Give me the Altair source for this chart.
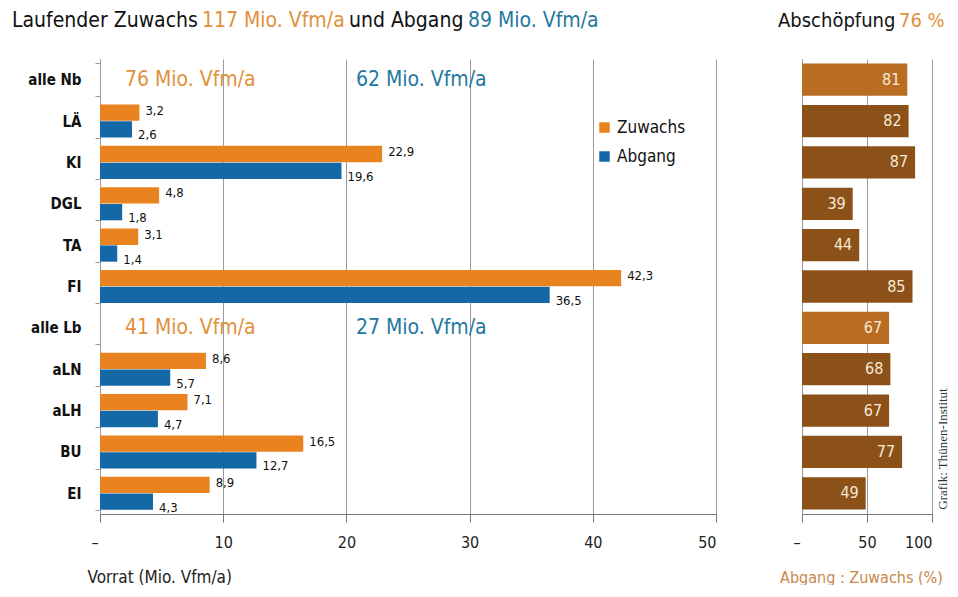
import altair as alt
import pandas as pd

categories = ["alle Nb", "LÄ", "KI", "DGL", "TA", "FI", "alle Lb", "aLN", "aLH", "BU", "EI"]
bar_cats = ["LÄ", "KI", "DGL", "TA", "FI", "aLN", "aLH", "BU", "EI"]
zuwachs = [3.2, 22.9, 4.8, 3.1, 42.3, 8.6, 7.1, 16.5, 8.9]
abgang = [2.6, 19.6, 1.8, 1.4, 36.5, 5.7, 4.7, 12.7, 4.3]
series = ["Zuwachs", "Abgang"]
abschoepfung = [81, 82, 87, 39, 44, 85, 67, 68, 67, 77, 49]
ratio_kind = ["gesamt", "art", "art", "art", "art", "art", "gesamt", "art", "art", "art", "art"]
header_cats = ["alle Nb", "alle Lb"]
header_zuwachs = ["76 Mio. Vfm/a", "41 Mio. Vfm/a"]
header_abgang = ["62 Mio. Vfm/a", "27 Mio. Vfm/a"]
left_ticks = [0, 10, 20, 30, 40, 50]
right_ticks = [0, 50, 100]

ORANGE = "#E8831F"
BLUE = "#1568A6"
T_ORANGE = "#E0913A"
T_BLUE = "#2478A0"
LIGHT = "#B96D22"
DARK = "#8C5119"
GRID = "#9a9a9a"
FONT = "Liberation Sans Narrow, DejaVu Sans Condensed, Roboto, sans-serif"

rows = []
for c, z, a in zip(bar_cats, zuwachs, abgang):
    rows.append({"cat": c, "serie": "Zuwachs", "val": z, "lab": f"{z:.1f}".replace(".", ",")})
    rows.append({"cat": c, "serie": "Abgang", "val": a, "lab": f"{a:.1f}".replace(".", ",")})
df = pd.DataFrame(rows)
hdf = pd.DataFrame({"cat": header_cats, "z": header_zuwachs, "a": header_abgang})
rdf = pd.DataFrame({"cat": categories, "val": abschoepfung, "kind": ratio_kind})

W_L, W_R, H = 616, 130, 455
TY = -38
dash_offset = {"condition": {"test": "datum.value == 0", "value": -9}, "value": 0}

yscale = alt.Scale(domain=categories, paddingInner=0.2, paddingOuter=0.1)
y_left = alt.Y("cat:N", scale=yscale, sort=categories,
               axis=alt.Axis(title=None, labelFontSize=15, labelFontWeight="bold", labelColor="#111",
                             labelPadding=14, tickSize=5, tickBand="extent", domainColor=GRID,
                             tickColor=GRID, grid=False))
xl = alt.X("val:Q", scale=alt.Scale(domain=[0, 50], nice=False),
           axis=alt.Axis(values=left_ticks, labelExpr="datum.value == 0 ? '–' : datum.label",
                         labelOffset=dash_offset,
                         grid=True, gridColor=GRID, domainColor="#777", tickColor="#777",
                         tickSize=8, labelFontSize=16, labelPadding=12, labelColor="#222",
                         title="Vorrat (Mio. Vfm/a)", titleAnchor="start", titleAlign="left",
                         titleX=-13, titleY=63, titleBaseline="middle", titleFontSize=17,
                         titleFontWeight="normal", titleColor="#222"))
yoff = alt.YOffset("serie:N", sort=series, scale=alt.Scale(domain=series, paddingInner=0.03))

base = alt.Chart(df)
bars = base.mark_bar().encode(
    y=y_left, x=xl, yOffset=yoff,
    color=alt.Color("serie:N", sort=series,
                    scale=alt.Scale(domain=series, range=[ORANGE, BLUE]),
                    legend=alt.Legend(title=None, orient="none", legendX=496, legendY=60,
                                      symbolType="square", symbolSize=110, labelFontSize=17,
                                      labelColor="#111", rowPadding=11,
                                      symbolStrokeWidth=0)),
)
lab_z = base.transform_filter(alt.datum.serie == "Zuwachs").mark_text(
    align="left", baseline="middle", dx=6, dy=-2, fontSize=13, color="#111").encode(
    y=alt.Y("cat:N", sort=categories), x="val:Q", yOffset=yoff, text="lab:N")
lab_a = base.transform_filter(alt.datum.serie == "Abgang").mark_text(
    align="left", baseline="middle", dx=6, dy=6, fontSize=13, color="#111").encode(
    y=alt.Y("cat:N", sort=categories), x="val:Q", yOffset=yoff, text="lab:N")

hbase = alt.Chart(hdf)
h_z = hbase.mark_text(align="left", baseline="middle", fontSize=21, color=T_ORANGE).encode(
    y=alt.Y("cat:N", sort=categories), x=alt.value(25), text="z:N")
h_a = hbase.mark_text(align="left", baseline="middle", fontSize=21, color=T_BLUE).encode(
    y=alt.Y("cat:N", sort=categories), x=alt.value(256), text="a:N")

def ttext(txt, x, y, color, size=21, align="left"):
    return alt.Chart(pd.DataFrame({"t": [txt]})).mark_text(
        align=align, baseline="middle", fontSize=size, color=color).encode(
        x=alt.value(x), y=alt.value(y), text="t:N")

t1 = ttext("Laufender Zuwachs", -88, TY, "#111")
t2 = ttext("117 Mio. Vfm/a", 102, TY, T_ORANGE)
t3 = ttext("und Abgang", 249, TY, "#111")
t4 = ttext("89 Mio. Vfm/a", 368, TY, T_BLUE)

left = alt.layer(bars, lab_z, lab_a, h_z, h_a, t1, t2, t3, t4).properties(width=W_L, height=H)

# right panel
ry = alt.Y("cat:N", sort=categories, scale=alt.Scale(domain=categories, paddingInner=0.22, paddingOuter=0.11),
           axis=alt.Axis(title=None, labels=False, ticks=False, domainColor=GRID, grid=False))
rx = alt.X("val:Q", scale=alt.Scale(domain=[0, 100], nice=False),
           axis=alt.Axis(values=right_ticks, labelExpr="datum.value == 0 ? '–' : datum.label",
                         labelOffset=dash_offset,
                         grid=True, gridColor=GRID, domainColor="#777", tickColor="#777",
                         tickSize=8, labelFontSize=16, labelPadding=12, labelColor="#222",
                         title="Abgang : Zuwachs (%)", titleX=59, titleY=63, titleBaseline="middle",
                         titleFontSize=16, titleFontWeight="normal", titleColor="#C8874A"))
rbase = alt.Chart(rdf)
rbars = rbase.mark_bar().encode(
    y=ry, x=rx,
    color=alt.Color("kind:N", scale=alt.Scale(domain=["gesamt", "art"], range=[LIGHT, DARK]), legend=None))
rlab = rbase.mark_text(align="right", baseline="middle", dx=-7, fontSize=16, color="#F6EAD6").encode(
    y=alt.Y("cat:N", sort=categories), x="val:Q", text=alt.Text("val:Q", format="d"))
r1 = ttext("Abschöpfung", -24, TY, "#111", size=20)
r2 = ttext("76 %", 97, TY, T_ORANGE, size=20)
credit = alt.Chart(pd.DataFrame({"t": ["Grafik: Thünen-Institut"]})).mark_text(
    angle=270, align="center", baseline="middle", fontSize=13, color="#333",
    font="Liberation Serif").encode(x=alt.value(141), y=alt.value(390), text="t:N")
right = alt.layer(rbars, rlab, r1, r2, credit).properties(width=W_R, height=H)

chart = alt.hconcat(left, right, spacing=86, bounds="flush").resolve_scale(
    color="independent", y="independent", x="independent").resolve_legend(color="independent").properties(
    padding={"left": 4, "top": 2, "right": 0, "bottom": 0},
).configure(font=FONT).configure_view(stroke=None)

chart.save("out.html", embed_options={"renderer": "svg", "actions": False})
